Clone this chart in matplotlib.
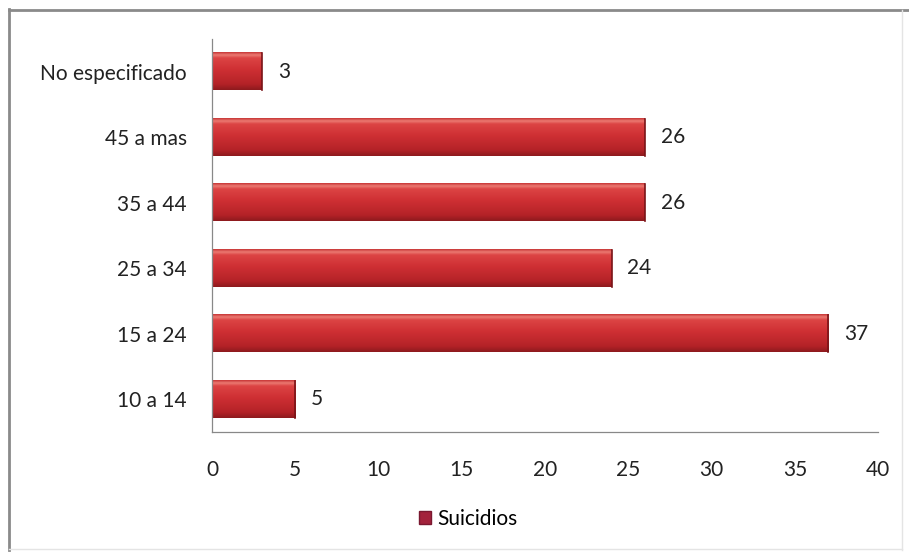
import numpy as np
import matplotlib
matplotlib.use('Agg')
import matplotlib.pyplot as plt
from matplotlib.colors import LinearSegmentedColormap
from matplotlib.lines import Line2D
from matplotlib.patches import Patch

categorias = ['10 a 14', '15 a 24', '25 a 34', '35 a 44', '45 a mas', 'No especificado']
suicidios = [5, 37, 24, 26, 26, 3]
ticks_x = [0, 5, 10, 15, 20, 25, 30, 35, 40]

plt.rcParams['font.family'] = ['Lato', 'DejaVu Sans']

fig = plt.figure(figsize=(9.09, 5.52), dpi=100)
ax = fig.add_axes([0.2332, 0.2174, 0.7328, 0.7120])

# gradiente vertical de la barra (arriba claro, abajo oscuro)
cmap = LinearSegmentedColormap.from_list('barra', [
    (0.0, '#8e1a1e'), (0.15, '#b42227'), (0.55, '#cf3034'),
    (0.85, '#dc4444'), (0.93, '#ec7a72'), (1.0, '#c93a3a')])
grad = np.linspace(0, 1, 64).reshape(-1, 1)

alto = 0.57
y = np.arange(len(categorias))
for i, v in enumerate(suicidios):
    ax.imshow(grad, cmap=cmap, origin='lower', aspect='auto',
              extent=(0, v, y[i] - alto / 2, y[i] + alto / 2), zorder=2)
    ax.plot([v, v], [y[i] - alto / 2, y[i] + alto / 2], color='#7a1418', lw=1.2, zorder=3)
    ax.text(v + 0.95, y[i], str(v), va='center', ha='left', fontsize=15, color='#222222')

ax.set_xlim(0, 40)
ax.set_ylim(-0.5, len(categorias) - 0.5)
ax.set_yticks(y)
ax.set_yticklabels(categorias, fontsize=15, color='#222222')
ax.set_xticks(ticks_x)
ax.set_xticklabels([str(t) for t in ticks_x], fontsize=15, color='#222222')
ax.tick_params(length=0, pad=18, axis='y')
ax.tick_params(length=0, pad=20, axis='x')
for s in ['top', 'right']:
    ax.spines[s].set_visible(False)
ax.spines['left'].set_color('#888888')
ax.spines['bottom'].set_color('#888888')
ax.spines['left'].set_linewidth(0.9)
ax.spines['bottom'].set_linewidth(0.9)

leg = fig.legend(handles=[Patch(facecolor='#a3223c', edgecolor='#7a1830', label='Suicidios')],
                 loc='center', bbox_to_anchor=(0.515, 0.06), frameon=False,
                 fontsize=15, handlelength=0.6, handleheight=0.6, handletextpad=0.3)

# marco del grafico
fig.add_artist(Line2D([0.010, 0.010], [0.004, 0.983], transform=fig.transFigure, color='#8a8a8a', lw=2))
fig.add_artist(Line2D([0.010, 1.0], [0.982, 0.982], transform=fig.transFigure, color='#8a8a8a', lw=2))
fig.add_artist(Line2D([0.992, 0.992], [0.004, 0.982], transform=fig.transFigure, color='#e4e4e4', lw=1))
fig.add_artist(Line2D([0.010, 0.992], [0.006, 0.006], transform=fig.transFigure, color='#e4e4e4', lw=1))

plt.savefig('out.png', dpi=100)
